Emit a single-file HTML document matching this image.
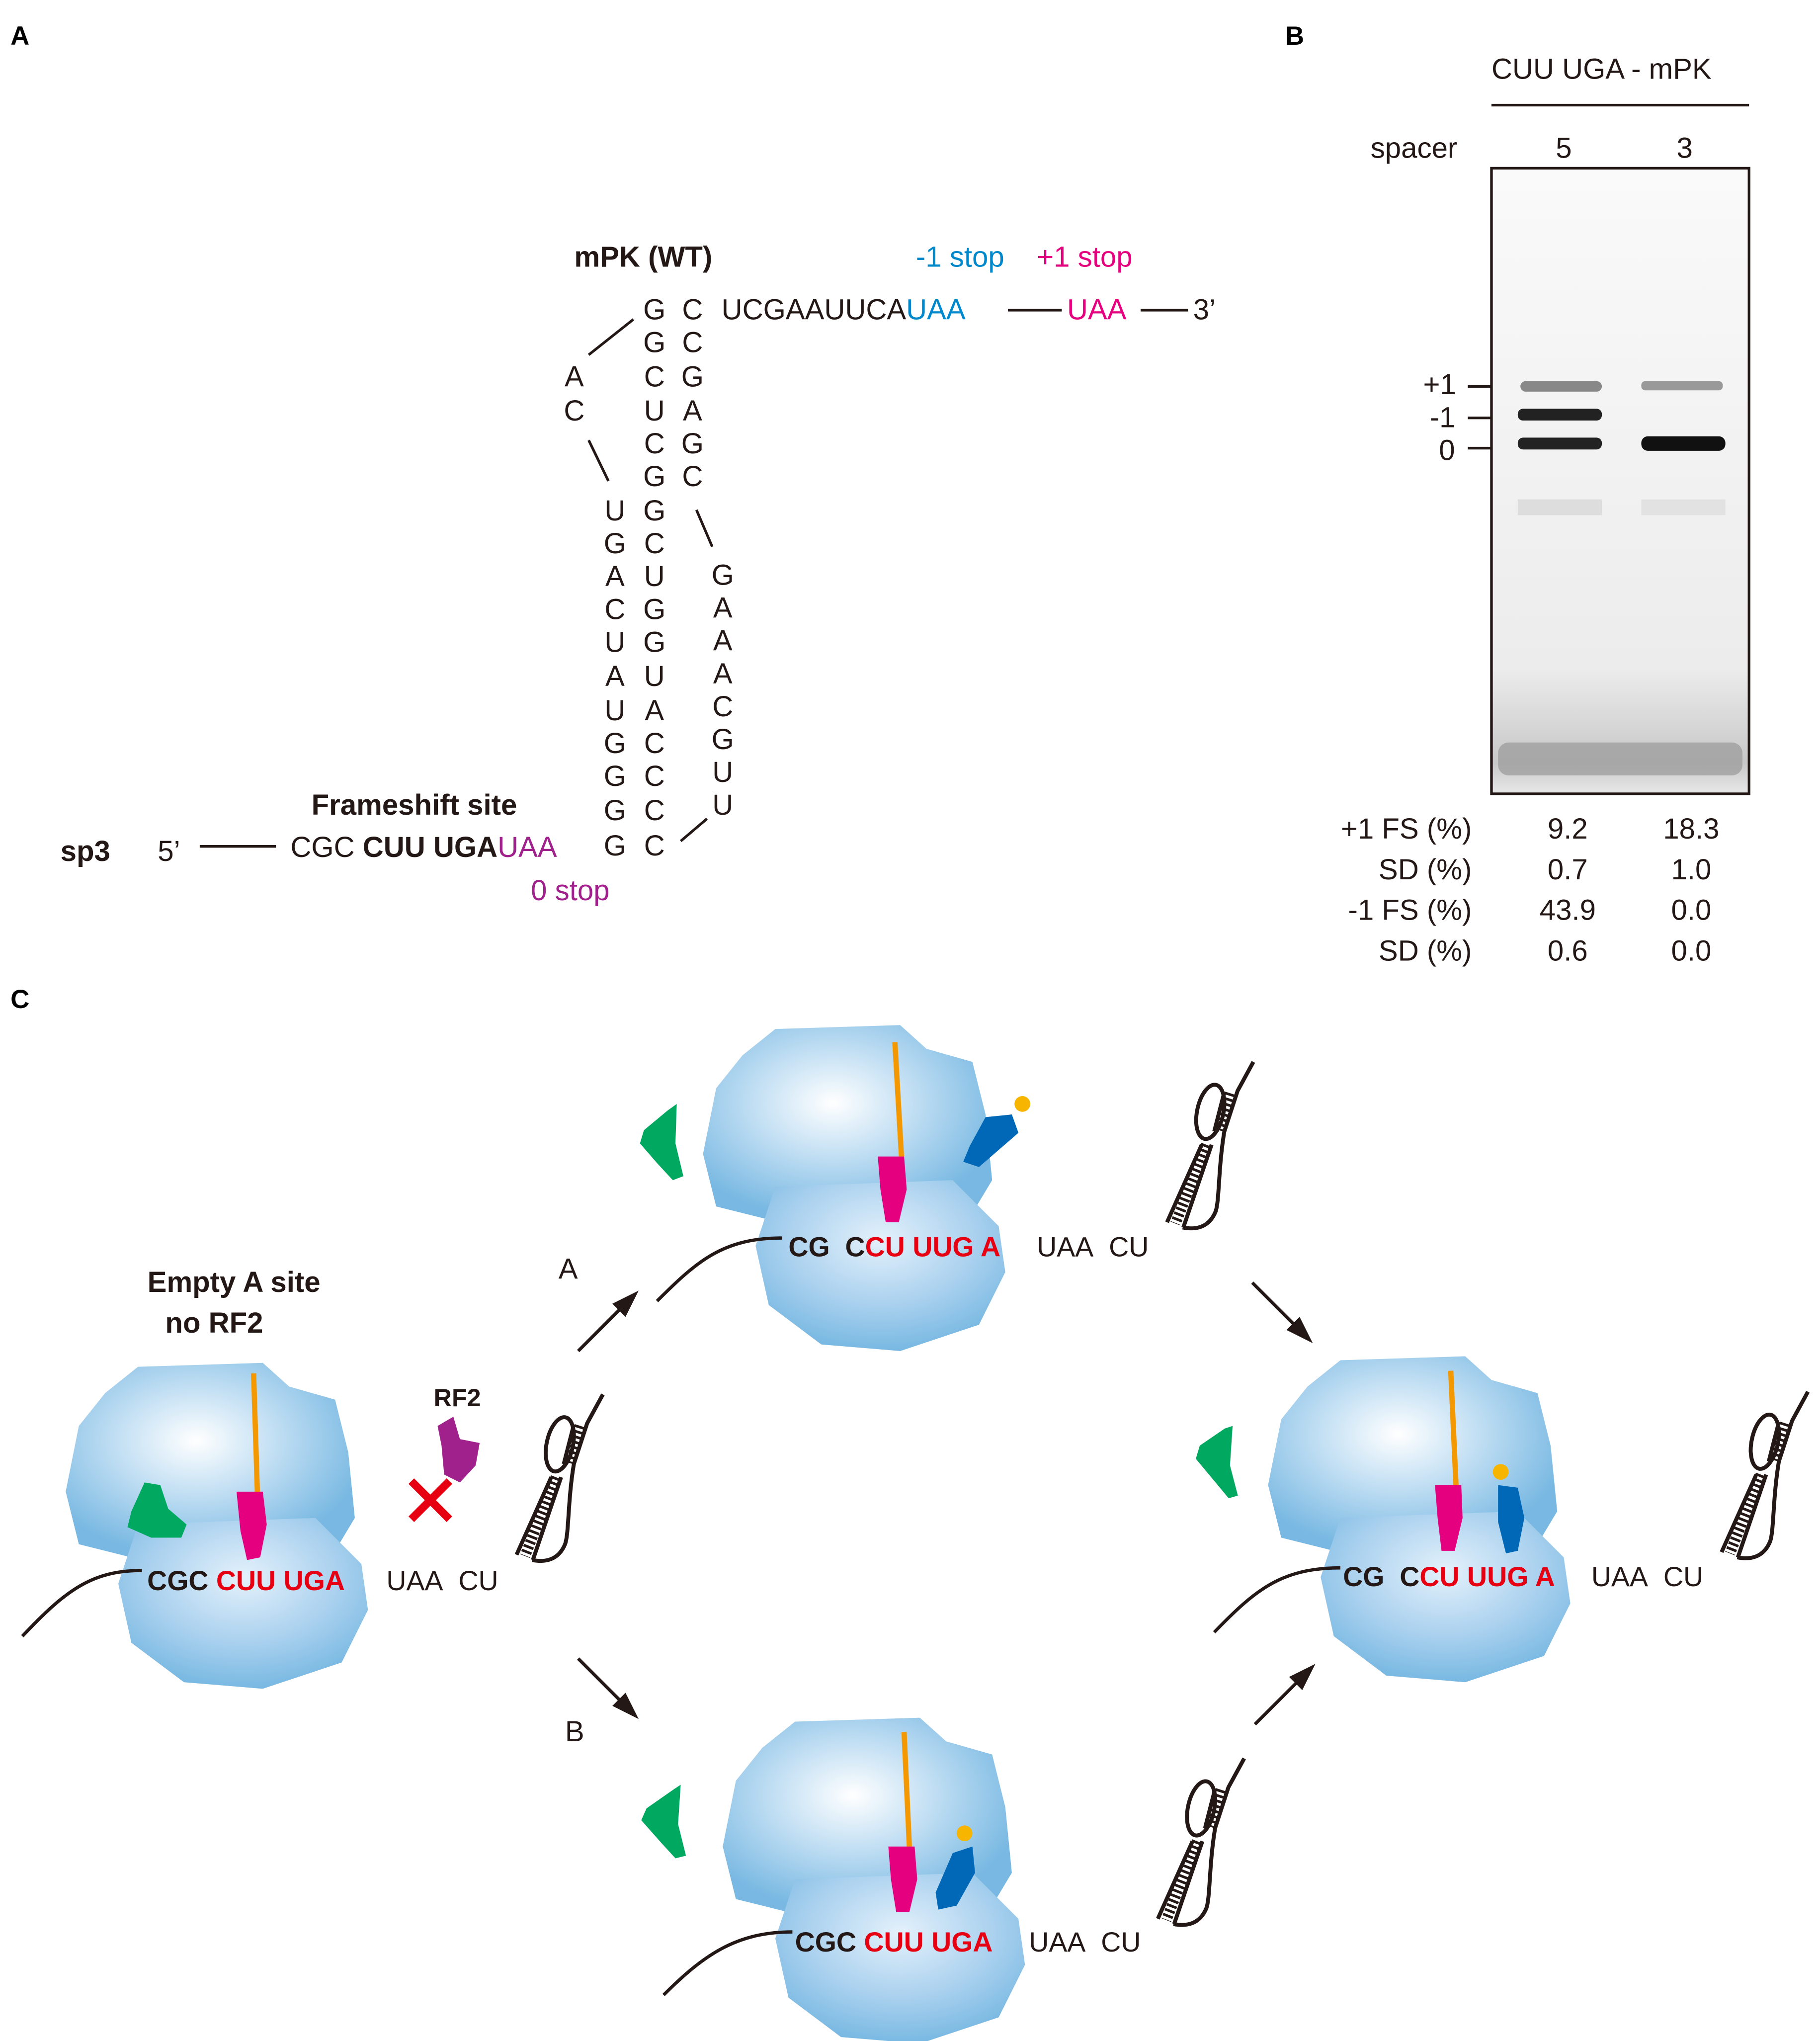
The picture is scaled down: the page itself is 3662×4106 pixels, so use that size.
<!DOCTYPE html>
<html><head><meta charset="utf-8"><style>
html,body{margin:0;padding:0;background:#fff}
svg{display:block}
text{font-family:"Liberation Sans",Arial,sans-serif}
</style></head><body>
<svg width="3662" height="4106" viewBox="0 0 1385 1553" preserveAspectRatio="none" xmlns="http://www.w3.org/2000/svg">
<defs>
<radialGradient id="rg" cx="0.45" cy="0.4" r="0.6">
<stop offset="0" stop-color="#ffffff"/><stop offset="0.5" stop-color="#bcdcf2"/><stop offset="1" stop-color="#78b8e2"/>
</radialGradient>
<radialGradient id="rg2" cx="0.5" cy="0.35" r="0.65">
<stop offset="0" stop-color="#e4f1fb"/><stop offset="0.6" stop-color="#a8d0ee"/><stop offset="1" stop-color="#78b8e2"/>
</radialGradient>
<linearGradient id="gel" x1="0" y1="0" x2="0" y2="1">
<stop offset="0" stop-color="#fafafa"/><stop offset="0.8" stop-color="#ececec"/><stop offset="0.95" stop-color="#c8c8c8"/><stop offset="1" stop-color="#e8e8e8"/>
</linearGradient>
<g id="ribo">
<path d="M-55,-75 L40,-78 L60,-60 L95,-50 L105,-10 L110,40 L95,65 L-60,70 L-100,60 L-110,20 L-100,-30 L-80,-55 Z" fill="url(#rg)"/>
<path d="M-55,45 L80,40 L115,75 L120,110 L100,150 L40,170 L-20,165 L-60,135 L-70,90 Z" fill="url(#rg2)"/>
</g>
<g id="hp" fill="none" stroke="#231815" stroke-width="3">
<path d="M53.8,-126 L41.8,-104 L31.7,-73 C27,-45 28,-20 25,-12 C20,0 10,2 0,0"/>
<line x1="31.7" y1="-103" x2="24" y2="-73"/>
<line x1="14.5" y1="-63" x2="-11.9" y2="-4"/>
<line x1="22" y1="-63" x2="0.5" y2="0"/>
<ellipse cx="21" cy="-88" rx="10" ry="21" transform="rotate(12 21 -88)"/>
<line x1="36.7" y1="-102" x2="27.8" y2="-74" stroke-width="9" stroke-dasharray="2 2"/>
<line x1="18" y1="-63" x2="-5.5" y2="-3" stroke-width="8" stroke-dasharray="2 2"/>
</g>
<g id="arr"><line x1="0" y1="0" x2="34" y2="-34" stroke="#231815" stroke-width="2.5"/><polygon points="46,-46 26,-36 36,-26" fill="#231815"/></g>
</defs>

<!-- Panel labels -->
<text x="8" y="34" font-size="20" font-weight="bold">A</text>
<text x="978" y="34" font-size="20" font-weight="bold">B</text>
<text x="8" y="767" font-size="20" font-weight="bold">C</text>

<!-- Part A -->
<g font-size="22" fill="#231815">
<text x="437" y="203" font-weight="bold">mPK (WT)</text>
<text x="697" y="203" fill="#0088cc">-1 stop</text>
<text x="789" y="203" fill="#e5007f">+1 stop</text>
<g text-anchor="middle">
<text x="498" y="243">G</text><text x="498" y="268">G</text><text x="498" y="294">C</text><text x="498" y="320">U</text><text x="498" y="345">C</text><text x="498" y="370">G</text><text x="498" y="396">G</text><text x="498" y="421">C</text><text x="498" y="446">U</text><text x="498" y="471">G</text><text x="498" y="496">G</text><text x="498" y="522">U</text><text x="498" y="548">A</text><text x="498" y="573">C</text><text x="498" y="598">C</text><text x="498" y="624">C</text><text x="498" y="651">C</text>
<text x="527" y="243">C</text><text x="527" y="268">C</text><text x="527" y="294">G</text><text x="527" y="320">A</text><text x="527" y="345">G</text><text x="527" y="370">C</text>
<text x="437" y="294">A</text><text x="437" y="320">C</text>
<text x="468" y="396">U</text><text x="468" y="421">G</text><text x="468" y="446">A</text><text x="468" y="471">C</text><text x="468" y="496">U</text><text x="468" y="522">A</text><text x="468" y="548">U</text><text x="468" y="573">G</text><text x="468" y="598">G</text><text x="468" y="624">G</text><text x="468" y="651">G</text>
<text x="550" y="445">G</text><text x="550" y="470">A</text><text x="550" y="495">A</text><text x="550" y="520">A</text><text x="550" y="545">C</text><text x="550" y="570">G</text><text x="550" y="595">U</text><text x="550" y="620">U</text>
</g>
<text x="549" y="243">UCGAAUUCA<tspan fill="#0088cc">UAA</tspan></text>
<text x="812" y="243" fill="#e5007f">UAA</text>
<text x="908" y="243">3’</text>
<text x="237" y="620" font-weight="bold">Frameshift site</text>
<text x="46" y="655" font-weight="bold">sp3</text>
<text x="120" y="655">5’</text>
<text x="221" y="652">CGC <tspan font-weight="bold">CUU UGA</tspan><tspan fill="#a0218c">UAA</tspan></text>
<text x="404" y="685" fill="#a0218c">0 stop</text>
</g>
<g stroke="#231815" stroke-width="2">
<line x1="767" y1="236" x2="808" y2="236"/><line x1="868" y1="236" x2="904" y2="236"/>
<line x1="152" y1="644" x2="210" y2="644"/>
<line x1="448" y1="270" x2="482" y2="243"/>
<line x1="448" y1="335" x2="463" y2="366"/>
<line x1="530" y1="388" x2="542" y2="416"/>
<line x1="518" y1="640" x2="538" y2="623"/>
</g>

<!-- Part B -->
<g font-size="22" fill="#231815">
<text x="1135" y="60">CUU UGA - mPK</text>
<text x="1043" y="120">spacer</text>
<text x="1190" y="120" text-anchor="middle">5</text>
<text x="1282" y="120" text-anchor="middle">3</text>
<text x="1083" y="300">+1</text>
<text x="1088" y="325">-1</text>
<text x="1095" y="350">0</text>
<g text-anchor="end"><text x="1120" y="638">+1 FS (%)</text><text x="1120" y="669">SD (%)</text><text x="1120" y="700">-1 FS (%)</text><text x="1120" y="731">SD (%)</text></g>
<g text-anchor="middle"><text x="1193" y="638">9.2</text><text x="1193" y="669">0.7</text><text x="1193" y="700">43.9</text><text x="1193" y="731">0.6</text>
<text x="1287" y="638">18.3</text><text x="1287" y="669">1.0</text><text x="1287" y="700">0.0</text><text x="1287" y="731">0.0</text></g>
</g>
<line x1="1135" y1="80" x2="1331" y2="80" stroke="#231815" stroke-width="2"/>
<rect x="1135" y="128" width="196" height="476" fill="url(#gel)" stroke="#231815" stroke-width="2"/>
<g stroke="#231815" stroke-width="2"><line x1="1117" y1="294" x2="1135" y2="294"/><line x1="1117" y1="318" x2="1135" y2="318"/><line x1="1117" y1="341" x2="1135" y2="341"/></g>
<g>
<rect x="1157" y="290" width="62" height="8" rx="4" fill="#888"/>
<rect x="1155" y="311" width="64" height="9" rx="4" fill="#222"/>
<rect x="1155" y="333" width="64" height="9" rx="4" fill="#222"/>
<rect x="1249" y="290" width="62" height="7" rx="3" fill="#999"/>
<rect x="1249" y="332" width="64" height="11" rx="5" fill="#111"/>
<rect x="1140" y="565" width="186" height="25" rx="8" fill="#999" opacity="0.7"/>
<rect x="1155" y="380" width="64" height="12" fill="#ddd"/><rect x="1249" y="380" width="64" height="12" fill="#e2e2e2"/>
</g>

<!-- Part C -->
<g font-size="22" fill="#231815" font-weight="bold" text-anchor="middle">
<text x="178" y="983">Empty A site</text><text x="163" y="1014">no RF2</text>
<text x="348" y="1070" font-size="19">RF2</text>
</g>
<g font-size="22" fill="#231815"><text x="425" y="973">A</text><text x="430" y="1325">B</text></g>

<use href="#ribo" x="160" y="1115"/>
<use href="#ribo" x="645" y="858"/>
<use href="#ribo" x="1075" y="1110"/>
<use href="#ribo" x="660" y="1385"/>

<!-- mRNA curves -->
<g fill="none" stroke="#231815" stroke-width="2.5">
<path d="M17,1245 C50,1210 70,1195 108,1195"/>
<path d="M500,990 C530,960 550,942 595,942"/>
<path d="M924,1242 C955,1210 975,1193 1020,1193"/>
<path d="M505,1518 C535,1488 560,1470 603,1470"/>
</g>
<use href="#hp" x="405" y="1187"/>
<use href="#hp" x="900" y="934"/>
<use href="#hp" x="1322" y="1185"/>
<use href="#hp" x="893" y="1464"/>

<g font-size="21" fill="#231815">
<text x="112" y="1210" font-weight="bold">CGC <tspan fill="#e60012">CUU UGA</tspan></text><text x="294" y="1210">UAA&#160; CU</text>
<text x="600" y="956" font-weight="bold">CG&#160; C<tspan fill="#e60012">CU UUG A</tspan></text><text x="789" y="956">UAA&#160; CU</text>
<text x="1022" y="1207" font-weight="bold">CG&#160; C<tspan fill="#e60012">CU UUG A</tspan></text><text x="1211" y="1207">UAA&#160; CU</text>
<text x="605" y="1485" font-weight="bold">CGC <tspan fill="#e60012">CUU UGA</tspan></text><text x="783" y="1485">UAA&#160; CU</text>
</g>

<!-- arrows -->
<use href="#arr" x="440" y="1028"/>
<use href="#arr" x="955" y="1312"/>
<g transform="translate(440,1262) scale(1,-1)"><use href="#arr"/></g>
<g transform="translate(953,976) scale(1,-1)"><use href="#arr"/></g>

<!-- orange tRNA chains, pink tRNAs -->
<g stroke="#f39800" stroke-width="4" fill="none">
<path d="M193,1045 L196,1140"/><path d="M681,793 L686,880"/><path d="M1104,1043 L1108,1130"/><path d="M688,1318 L692,1405"/>
</g>
<g fill="#e5007f">
<path d="M180,1135 L200,1135 L203,1160 L198,1185 L188,1187 L183,1165 Z"/>
<path d="M668,880 L688,880 L690,905 L684,930 L674,930 L670,905 Z"/>
<path d="M1092,1130 L1112,1130 L1113,1155 L1107,1180 L1097,1180 L1094,1155 Z"/>
<path d="M676,1405 L696,1405 L698,1430 L692,1455 L682,1455 L678,1430 Z"/>
</g>
<!-- blue RFs -->
<g fill="#0068b7">
<path d="M738,872 L750,850 L770,848 L775,862 L760,875 L745,888 L733,884 Z"/>
<path d="M1140,1130 L1155,1132 L1160,1155 L1155,1180 L1146,1182 L1140,1158 Z"/>
<path d="M712,1440 L725,1410 L740,1405 L742,1425 L728,1450 L714,1453 Z"/>
</g>
<g fill="#f8b500"><circle cx="778" cy="840" r="6"/><circle cx="1142" cy="1120" r="6"/><circle cx="734" cy="1395" r="6"/></g>
<!-- green EF -->
<g fill="#00a95f">
<path d="M100,1150 L110,1128 L122,1130 L128,1148 L142,1160 L138,1170 L115,1170 L97,1162 Z"/>
<path d="M508,845 L515,840 L514,870 L520,895 L512,898 L500,885 L487,870 L490,860 Z"/>
<path d="M932,1087 L938,1085 L936,1115 L942,1138 L935,1140 L925,1128 L910,1110 L913,1100 Z"/>
<path d="M512,1362 L518,1358 L516,1388 L522,1412 L514,1414 L503,1402 L488,1385 L492,1376 Z"/>
</g>
<!-- RF2 purple + X -->
<path d="M333,1085 L345,1078 L350,1095 L365,1098 L362,1115 L350,1128 L338,1122 L336,1100 Z" fill="#a0218c"/>
<g stroke="#e60012" stroke-width="6"><line x1="313" y1="1127" x2="342" y2="1156"/><line x1="342" y1="1127" x2="313" y2="1156"/></g>
</svg>
</body></html>
